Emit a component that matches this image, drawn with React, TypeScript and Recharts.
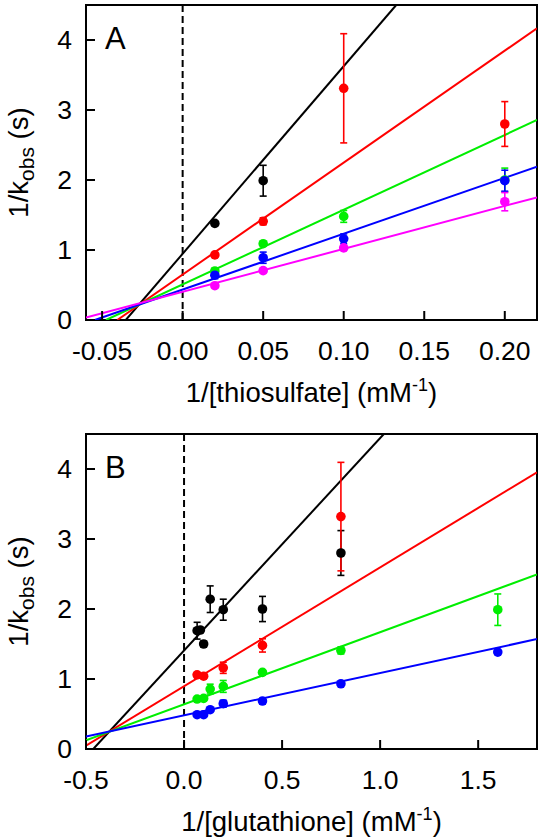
import React from 'react';
import { ComposedChart, Line, Scatter, ErrorBar, XAxis, YAxis, ReferenceLine, ReferenceArea } from 'recharts';

const FONT = '"Liberation Sans", Arial, Helvetica, sans-serif';

// panel A: 1/[thiosulfate] (mM^-1)
const thioX = [0.02, 0.05, 0.1, 0.2];
const thioBlack = [1.38, 1.99];
const thioBlackErr = [0.03, 0.22];
const thioRed = [0.93, 1.41, 3.31, 2.8];
const thioRedErr = [0.03, 0.05, 0.78, 0.32];
const thioGreen = [0.7, 1.09, 1.48, 2.0];
const thioGreenErr = [0.04, 0.03, 0.085, 0.17];
const thioBlue = [0.64, 0.89, 1.16, 1.99];
const thioBlueErr = [0.05, 0.08, 0.07, 0.15];
const thioMagenta = [0.49, 0.705, 1.03, 1.69];
const thioMagentaErr = [0.03, 0.03, 0.03, 0.13];

// fitted lines, panel A (two end points each)
const thioFitBlack = [[-0.0353, 0], [0.1326, 4.5]];
const thioFitRed = [[-0.0406, 0], [0.22, 4.167]];
const thioFitGreen = [[-0.0476, 0], [0.22, 2.857]];
const thioFitBlue = [[-0.0545, 0], [0.22, 2.19]];
const thioFitMagenta = [[-0.06, 0.035], [0.22, 1.752]];

const thioTicks = [-0.05, 0, 0.05, 0.1, 0.15, 0.2];

// panel B: 1/[glutathione] (mM^-1)
const gshBlackX = [0.0667, 0.0833, 0.1, 0.1333, 0.2, 0.4, 0.8];
const gshBlack = [1.69, 1.7, 1.5, 2.14, 1.99, 2.0, 2.8];
const gshBlackErr = [0.12, 0.03, 0.04, 0.19, 0.15, 0.18, 0.32];
const gshRedX = [0.0667, 0.1, 0.2, 0.4, 0.8];
const gshRed = [1.06, 1.04, 1.16, 1.48, 3.32];
const gshRedErr = [0.03, 0.03, 0.08, 0.095, 0.775];
const gshX = [0.0667, 0.1, 0.1333, 0.2, 0.4, 0.8, 1.6];
const gshGreen = [0.714, 0.723, 0.856, 0.894, 1.094, 1.408, 1.99];
const gshGreenErr = [0.02, 0.02, 0.07, 0.085, 0.03, 0.05, 0.225];
const gshBlue = [0.49, 0.49, 0.561, 0.647, 0.685, 0.932, 1.384];
const gshBlueErr = [0.02, 0.02, 0.02, 0.05, 0.04, 0.02, 0.02];

const gshFitBlack = [[-0.463, 0], [1.019, 4.5]];
const gshFitRed = [[-0.5, 0.047], [1.8, 3.953]];
const gshFitGreen = [[-0.5, 0.123], [1.8, 2.493]];
const gshFitBlue = [[-0.5, 0.18], [1.8, 1.57]];

const gshTicks = [-0.5, 0, 0.5, 1, 1.5];

const yTicks = [0, 1, 2, 3, 4];

const BLACK = '#000000';
const RED = '#ff0000';
const GREEN = '#00ee00';
const BLUE = '#0000ff';
const MAGENTA = '#ff00ff';

const pts = (xs: number[], ys: number[], errs: number[]) =>
  ys.map((y, i) => ({ x: xs[i], y, err: errs[i] }));
const fit = (pairs: number[][]) => pairs.map(([x, y]) => ({ x, y }));

const PLOT_LEFT = 86;
const PLOT_RIGHT = 537;

const XTick = (props: any) => {
  const { x, y, payload, digits } = props;
  return (
    <g>
      <line x1={x} x2={x} y1={y - 21} y2={y - 30} stroke="#000" strokeWidth={2} />
      <text x={x} y={y} dy="0.71em" textAnchor="middle" fontSize={26.5} fontFamily={FONT} fill="#000">
        {Number(payload.value).toFixed(digits)}
      </text>
    </g>
  );
};

const YTick = (props: any) => {
  const { x, y, payload } = props;
  return (
    <g>
      <line x1={x + 14} x2={x + 23} y1={y} y2={y} stroke="#000" strokeWidth={2} />
      <text x={x} y={y} dy="0.355em" textAnchor="end" fontSize={26.5} fontFamily={FONT} fill="#000">
        {payload.value}
      </text>
    </g>
  );
};

const XTitle = ({ text, baseY, letter, letterY }: any) => (
  <g>
    <text x={(PLOT_LEFT + PLOT_RIGHT) / 2} y={baseY} textAnchor="middle" fontSize={27.5} fontFamily={FONT} fill="#000">
      {text} (mM<tspan dy={-11} fontSize={18}>-1</tspan>
      <tspan dy={11}>)</tspan>
    </text>
    <text x={105} y={letterY} fontSize={31} fontFamily={FONT} fill="#000">
      {letter}
    </text>
  </g>
);

const YTitle = ({ cy }: any) => (
  <text
    x={28}
    y={cy}
    transform={`rotate(-90 28 ${cy})`}
    textAnchor="middle"
    fontSize={27.5}
    fontFamily={FONT}
    fill="#000"
  >
    1/k<tspan dy={6} fontSize={21}>obs</tspan>
    <tspan dy={-6}> (s)</tspan>
  </text>
);

const dot = (color: string) => (props: any) =>
  <circle cx={props.cx} cy={props.cy} r={4.8} fill={color} />;

interface Series {
  color: string;
  points: { x: number; y: number; err: number }[];
  fit: { x: number; y: number }[];
}

interface PanelProps {
  height: number;
  top: number;
  xAxisHeight: number;
  xDomain: [number, number];
  xTicks: number[];
  digits: number;
  title: string;
  letter: string;
  series: Series[];
}

const Panel: React.FC<PanelProps> = ({ height, top, xAxisHeight, xDomain, xTicks, digits, title, letter, series }) => {
  const plotBottom = height - xAxisHeight;
  return (
    <ComposedChart width={541} height={height} margin={{ top, right: 541 - PLOT_RIGHT, left: 0, bottom: 0 }}>
      <XAxis
        type="number"
        dataKey="x"
        domain={xDomain}
        allowDataOverflow
        ticks={xTicks}
        interval={0}
        height={xAxisHeight}
        axisLine={false}
        tickLine={false}
        tickSize={0}
        tickMargin={21}
        tick={<XTick digits={digits} />}
        label={<XTitle text={title} baseY={plotBottom + 82} letter={letter} letterY={top + 44} />}
      />
      <YAxis
        type="number"
        dataKey="y"
        domain={[0, 4.5]}
        allowDataOverflow
        ticks={yTicks}
        interval={0}
        width={PLOT_LEFT}
        axisLine={false}
        tickLine={false}
        tickSize={0}
        tickMargin={14}
        tick={<YTick />}
        label={<YTitle cy={(top + plotBottom) / 2} />}
      />
      <ReferenceArea x1={xDomain[0]} x2={xDomain[1]} y1={0} y2={4.5} fill="none" stroke="#000" strokeWidth={2} />
      <ReferenceLine x={0} stroke="#000" strokeWidth={2} strokeDasharray="7 4" />
      {series.map((s, i) => (
        <Line
          key={`fit-${i}`}
          data={s.fit}
          dataKey="y"
          type="linear"
          stroke={s.color}
          strokeWidth={2}
          dot={false}
          activeDot={false}
          isAnimationActive={false}
        />
      ))}
      {series.map((s, i) => (
        <Scatter key={`pts-${i}`} data={s.points} dataKey="y" shape={dot(s.color)} isAnimationActive={false}>
          <ErrorBar dataKey="err" direction="y" width={3.5} stroke={s.color} strokeWidth={1.6} isAnimationActive={false} />
        </Scatter>
      ))}
    </ComposedChart>
  );
};

const seriesA: Series[] = [
  { color: BLACK, points: pts(thioX, thioBlack, thioBlackErr), fit: fit(thioFitBlack) },
  { color: RED, points: pts(thioX, thioRed, thioRedErr), fit: fit(thioFitRed) },
  { color: GREEN, points: pts(thioX, thioGreen, thioGreenErr), fit: fit(thioFitGreen) },
  { color: BLUE, points: pts(thioX, thioBlue, thioBlueErr), fit: fit(thioFitBlue) },
  { color: MAGENTA, points: pts(thioX, thioMagenta, thioMagentaErr), fit: fit(thioFitMagenta) },
];

const seriesB: Series[] = [
  { color: BLACK, points: pts(gshBlackX, gshBlack, gshBlackErr), fit: fit(gshFitBlack) },
  { color: RED, points: pts(gshRedX, gshRed, gshRedErr), fit: fit(gshFitRed) },
  { color: GREEN, points: pts(gshX, gshGreen, gshGreenErr), fit: fit(gshFitGreen) },
  { color: BLUE, points: pts(gshX, gshBlue, gshBlueErr), fit: fit(gshFitBlue) },
];

export default function App() {
  return (
    <div style={{ position: 'absolute', left: 0, top: 0, width: 541, height: 839, background: '#fff' }}>
      <Panel
        height={420}
        top={5}
        xAxisHeight={100}
        xDomain={[-0.06, 0.22]}
        xTicks={thioTicks}
        digits={2}
        title="1/[thiosulfate]"
        letter="A"
        series={seriesA}
      />
      <Panel
        height={419}
        top={14}
        xAxisHeight={90}
        xDomain={[-0.5, 1.8]}
        xTicks={gshTicks}
        digits={1}
        title="1/[glutathione]"
        letter="B"
        series={seriesB}
      />
    </div>
  );
}
